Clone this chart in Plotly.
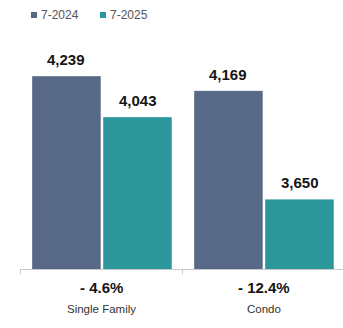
import plotly.graph_objects as go

categories = ["Single Family", "Condo"]
series_names = ["7-2024", "7-2025"]
values_2024 = [4239, 4169]
values_2025 = [4043, 3650]
colors = ["#586987", "#2b979a"]

FONT = "Liberation Sans, Arial, sans-serif"

fig = go.Figure()
for name, vals, col in zip(series_names, [values_2024, values_2025], colors):
    fig.add_trace(go.Bar(
        x=categories, y=vals, name=name,
        marker=dict(color=col, line=dict(color="rgba(255,255,255,0.35)", width=1)),
        showlegend=False,
    ))

# value labels above each bar
offsets = [-36, 36]
for vals, dx in zip([values_2024, values_2025], offsets):
    for cat, v in zip(categories, vals):
        fig.add_annotation(
            x=cat, y=v, xref="x", yref="y", xshift=dx, yshift=6,
            text=f"<b>{v:,}</b>", showarrow=False, yanchor="bottom",
            font=dict(family=FONT, size=15, color="#151515"),
        )

# percent change and category names under the axis
for cat, a, b in zip(categories, values_2024, values_2025):
    pct = (b - a) / a * 100
    sign = "-" if pct < 0 else "+"
    fig.add_annotation(
        x=cat, y=0, xref="x", yref="paper", yshift=-18, yanchor="middle",
        text=f"<b>{sign} {abs(pct):.1f}%</b>", showarrow=False,
        font=dict(family=FONT, size=15, color="#151515"),
    )
    fig.add_annotation(
        x=cat, y=0, xref="x", yref="paper", yshift=-40, yanchor="middle",
        text=cat, showarrow=False,
        font=dict(family=FONT, size=11.5, color="#333333"),
    )

# legend: small squares with series names
leg_x = [31, 100]
for name, col, lx in zip(series_names, colors, leg_x):
    fig.add_shape(type="rect", xref="paper", yref="paper",
                  x0=(lx - 20) / 323, x1=(lx - 14) / 323,
                  y0=(269 - 18) / 239, y1=(269 - 12) / 239,
                  fillcolor=col, line=dict(width=0))
    fig.add_annotation(
        x=(lx + 8 - 20) / 323, y=(269 - 15) / 239, xref="paper", yref="paper",
        xanchor="left", yanchor="middle", text=name, showarrow=False,
        font=dict(family=FONT, size=12, color="#555555"),
    )

fig.update_layout(
    width=343, height=328,
    margin=dict(l=20, r=0, t=30, b=59),
    paper_bgcolor="white", plot_bgcolor="white",
    barmode="group", bargap=0.123, bargroupgap=0.03,
    xaxis=dict(range=[-0.506, 1.488], showticklabels=False,
               showline=True, linecolor="#c8c8c8", linewidth=1,
               ticks="outside", tickson="boundaries", ticklen=4,
               tickcolor="#c8c8c8", showgrid=False),
    yaxis=dict(range=[3316, 4459], visible=False, showgrid=False),
)

fig.write_html("out.html")
